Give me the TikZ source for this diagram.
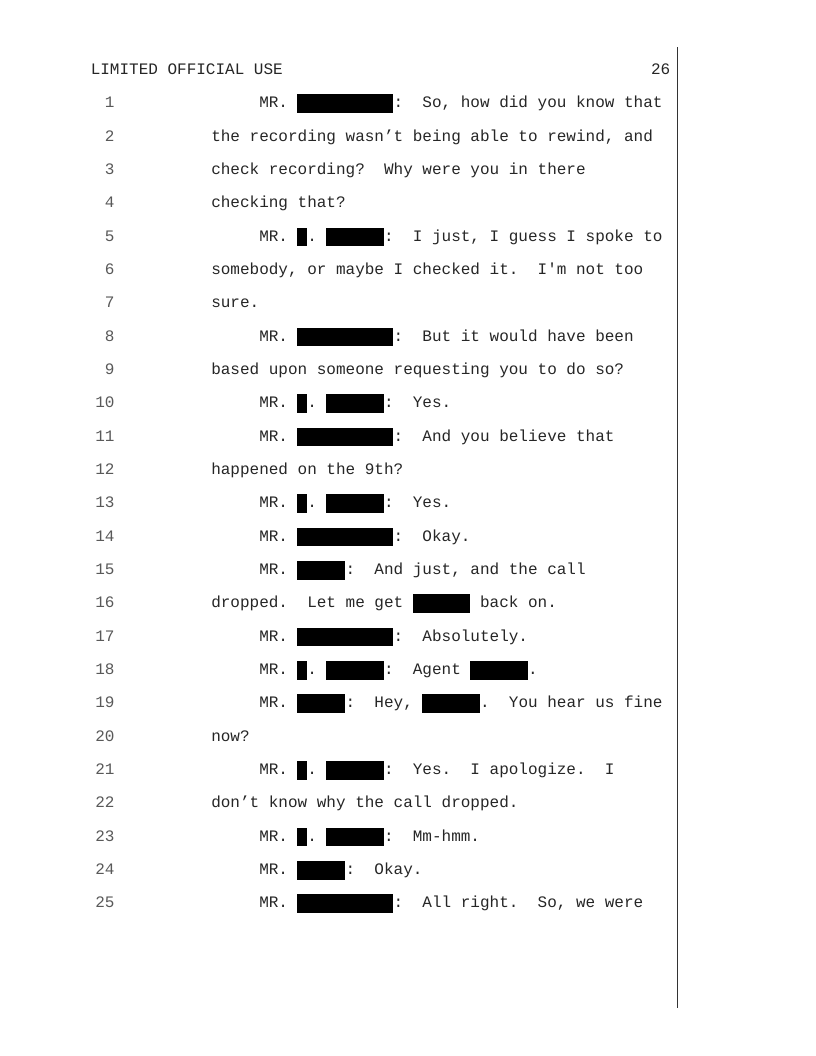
\documentclass[tikz,border=0pt]{standalone}
\usepackage{fontspec}
\setmonofont{Liberation Mono}
\newcommand\redactbox[4]{\fill[black] ({#1+9.6*#3},{#2-13.4}) rectangle ({#1+9.6*(#3+#4)},{#2+5.1});}
\begin{document}
\begin{tikzpicture}[x=0.75pt,y=-0.75pt,
  txt/.style={anchor=base west,inner sep=0pt,text=black!85,font=\ttfamily\fontsize{12}{14}\selectfont\frenchspacing},
  num/.style={anchor=base east,inner sep=0pt,text=black!65,font=\ttfamily\fontsize{12}{14}\selectfont},
  rule/.style={draw=black!80,line width=0.8pt}]
\useasboundingbox[fill=white] (0,0) rectangle (816,1056);
% header
\node[txt] (h) at (90.5,74.4) {LIMITED OFFICIAL USE};
\node[txt,anchor=base east] (pg) at (670.6,74.4) {26};
\draw[rule] (677.5,47.5) -- (677.5,1007.7);
% line numbers
\foreach \k in {1,...,25} \node[num] (n\k) at (114.8,{74.4+33.333*\k}) {\k};
% text lines
\node[txt] (l1) at (259,107.7) {MR.~\phantom{XXXXXXXXXX}:~~So,~how~did~you~know~that};
\node[txt] (l2) at (211,141.1) {the~recording~wasn’t~being~able~to~rewind,~and};
\node[txt] (l3) at (211,174.4) {check~recording?~~Why~were~you~in~there};
\node[txt] (l4) at (211,207.7) {checking~that?};
\node[txt] (l5) at (259,241.1) {MR.~\phantom{X}.~\phantom{XXXXXX}:~~I~just,~I~guess~I~spoke~to};
\node[txt] (l6) at (211,274.4) {somebody,~or~maybe~I~checked~it.~~I'm~not~too};
\node[txt] (l7) at (211,307.7) {sure.};
\node[txt] (l8) at (259,341.1) {MR.~\phantom{XXXXXXXXXX}:~~But~it~would~have~been};
\node[txt] (l9) at (211,374.4) {based~upon~someone~requesting~you~to~do~so?};
\node[txt] (l10) at (259,407.7) {MR.~\phantom{X}.~\phantom{XXXXXX}:~~Yes.};
\node[txt] (l11) at (259,441.1) {MR.~\phantom{XXXXXXXXXX}:~~And~you~believe~that};
\node[txt] (l12) at (211,474.4) {happened~on~the~9th?};
\node[txt] (l13) at (259,507.7) {MR.~\phantom{X}.~\phantom{XXXXXX}:~~Yes.};
\node[txt] (l14) at (259,541.1) {MR.~\phantom{XXXXXXXXXX}:~~Okay.};
\node[txt] (l15) at (259,574.4) {MR.~\phantom{XXXXX}:~~And~just,~and~the~call};
\node[txt] (l16) at (211,607.7) {dropped.~~Let~me~get~\phantom{XXXXXX}~back~on.};
\node[txt] (l17) at (259,641.1) {MR.~\phantom{XXXXXXXXXX}:~~Absolutely.};
\node[txt] (l18) at (259,674.4) {MR.~\phantom{X}.~\phantom{XXXXXX}:~~Agent~\phantom{XXXXXX}.};
\node[txt] (l19) at (259,707.7) {MR.~\phantom{XXXXX}:~~Hey,~\phantom{XXXXXX}.~~You~hear~us~fine};
\node[txt] (l20) at (211,741.1) {now?};
\node[txt] (l21) at (259,774.4) {MR.~\phantom{X}.~\phantom{XXXXXX}:~~Yes.~~I~apologize.~~I};
\node[txt] (l22) at (211,807.7) {don’t~know~why~the~call~dropped.};
\node[txt] (l23) at (259,841.1) {MR.~\phantom{X}.~\phantom{XXXXXX}:~~Mm-hmm.};
\node[txt] (l24) at (259,874.4) {MR.~\phantom{XXXXX}:~~Okay.};
\node[txt] (l25) at (259,907.7) {MR.~\phantom{XXXXXXXXXX}:~~All~right.~~So,~we~were};
% redactions
\redactbox{259}{107.7}{4}{10}
\redactbox{259}{241.1}{4}{1}
\redactbox{259}{241.1}{7}{6}
\redactbox{259}{341.1}{4}{10}
\redactbox{259}{407.7}{4}{1}
\redactbox{259}{407.7}{7}{6}
\redactbox{259}{441.1}{4}{10}
\redactbox{259}{507.7}{4}{1}
\redactbox{259}{507.7}{7}{6}
\redactbox{259}{541.1}{4}{10}
\redactbox{259}{574.4}{4}{5}
\redactbox{211}{607.7}{21}{6}
\redactbox{259}{641.1}{4}{10}
\redactbox{259}{674.4}{4}{1}
\redactbox{259}{674.4}{7}{6}
\redactbox{259}{674.4}{22}{6}
\redactbox{259}{707.7}{4}{5}
\redactbox{259}{707.7}{17}{6}
\redactbox{259}{774.4}{4}{1}
\redactbox{259}{774.4}{7}{6}
\redactbox{259}{841.1}{4}{1}
\redactbox{259}{841.1}{7}{6}
\redactbox{259}{874.4}{4}{5}
\redactbox{259}{907.7}{4}{10}
\end{tikzpicture}
\end{document}
